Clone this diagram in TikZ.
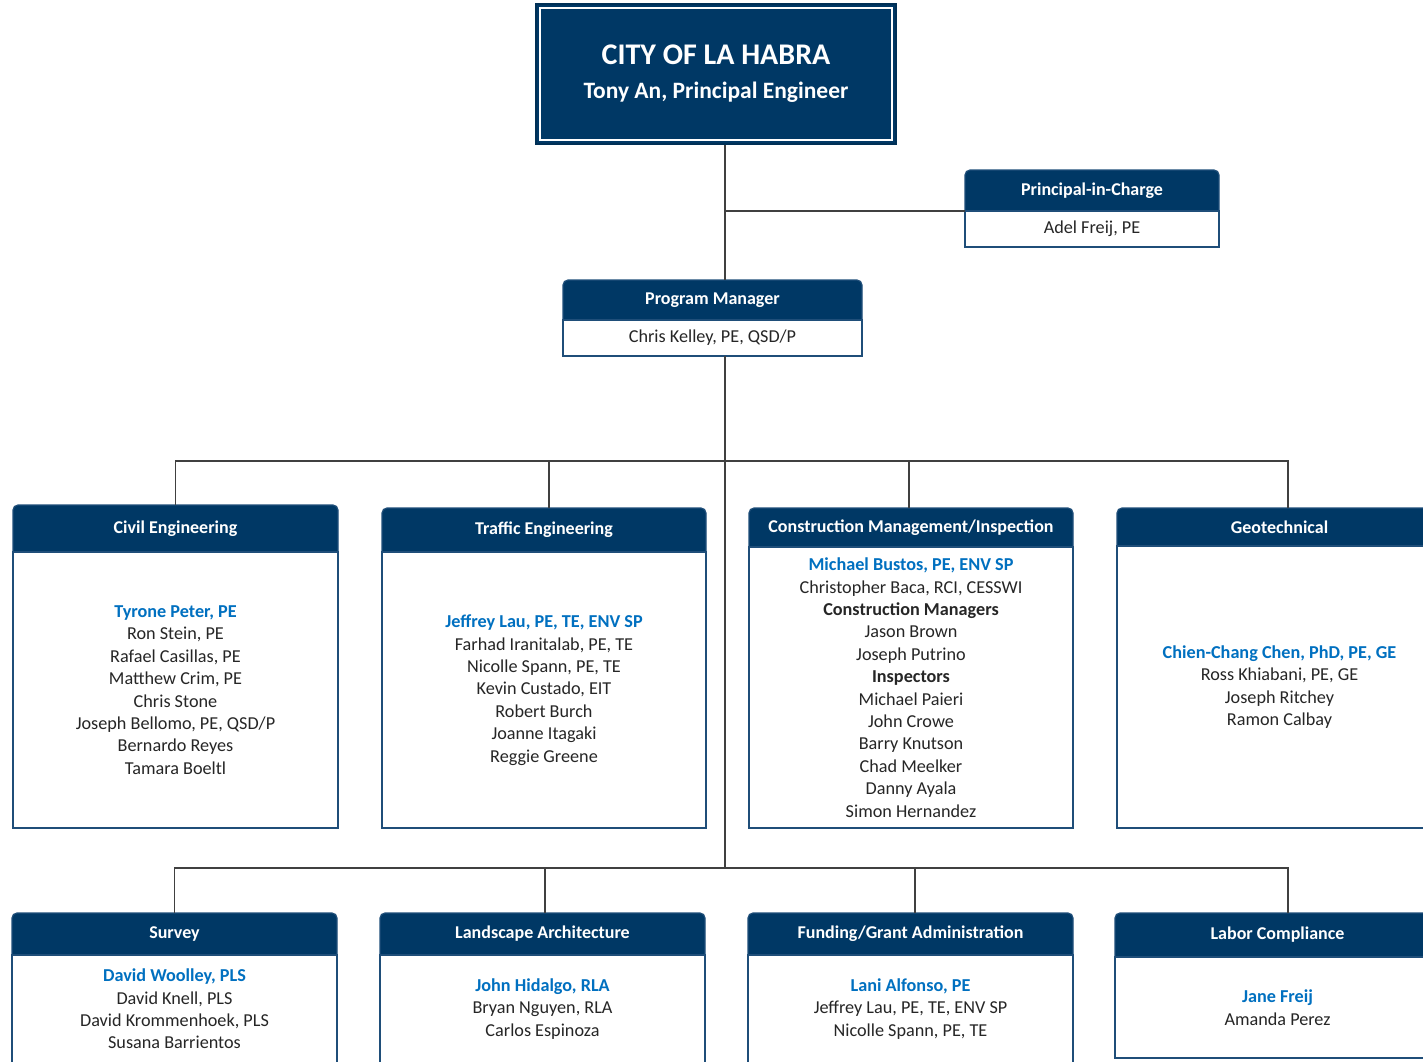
\documentclass[tikz,border=0pt]{standalone}
\usepackage{fontspec}
\setmainfont{Carlito}
\usepackage{tikz}
\usetikzlibrary{positioning}
\usetikzlibrary{calc}

\definecolor{navy}{HTML}{003865}
\definecolor{boxline}{HTML}{1F4E79}
\definecolor{leadblue}{HTML}{0070C0}
\definecolor{staffgray}{HTML}{262626}
\definecolor{linegray}{HTML}{404040}

\newcommand{\leadname}[1]{{\color{leadblue}\bfseries #1}}
\newcommand{\bodysize}{\fontsize{18.2}{22.4}\selectfont}

\tikzstyle{conn} = [draw=linegray, line width=1.5pt]
\tikzstyle{citybox} = [draw=navy!85!black, fill=navy, line width=2pt, minimum width=360pt, minimum height=140pt, text=white, font=\bfseries\fontsize{23.5}{34}\selectfont, align=center]
\tikzstyle{orgbox} = [draw=boxline, fill=navy, line width=1.2pt, rounded corners=5pt, anchor=north, inner sep=0pt, outer sep=0pt]
\tikzstyle{orghead} = [anchor=north, text=white, font=\bfseries\fontsize{18}{21}\selectfont, inner sep=0pt, outer sep=0pt]
\tikzstyle{orgbody} = [draw=boxline, fill=white, line width=1.2pt, text=staffgray, align=center, font=\bodysize, inner sep=0pt, outer sep=0pt]

\begin{document}
\begin{tikzpicture}[x=1pt, y=-1pt]
  \path[use as bounding box, clip] (0,0) rectangle (1423,1061);

  % City
  \node[citybox] (city) at (716,74) {{\fontsize{30}{34}\selectfont CITY OF LA HABRA}\\Tony An, Principal Engineer};
  \draw[white, line width=1.5pt] ([shift={(5pt,-5pt)}]city.north west) rectangle ([shift={(-5pt,5pt)}]city.south east);

  % Principal-in-Charge
  \node[orgbox, minimum width=254pt, minimum height=77pt] (pic) at (1092,170) {};
  \node[orghead, minimum width=254pt, minimum height=41pt] (picHead) at (pic.north) {Principal-in-Charge};
  \node[orgbody, minimum width=254pt, minimum height=36pt, below=0pt of picHead] (picStaff) {Adel Freij, PE};

  % Program Manager
  \node[orgbox, minimum width=299pt, minimum height=76pt] (pm) at (712.5,280) {};
  \node[orghead, minimum width=299pt, minimum height=40pt] (pmHead) at (pm.north) {Program Manager};
  \node[orgbody, minimum width=299pt, minimum height=36pt, below=0pt of pmHead] (pmStaff) {Chris Kelley, PE, QSD/P};

  % Upper row
  \node[orgbox, minimum width=325pt, minimum height=323pt] (civil) at (175.5,505) {};
  \node[orghead, minimum width=325pt, minimum height=47pt] (civilHead) at (civil.north) {Civil Engineering};
  \node[orgbody, minimum width=325pt, minimum height=276pt, below=0pt of civilHead] (civilStaff) {\leadname{Tyrone Peter, PE}\\Ron Stein, PE\\Rafael Casillas, PE\\Matthew Crim, PE\\Chris Stone\\Joseph Bellomo, PE, QSD/P\\Bernardo Reyes\\Tamara Boeltl};

  \node[orgbox, minimum width=324pt, minimum height=320pt] (traffic) at (544,508) {};
  \node[orghead, minimum width=324pt, minimum height=44pt] (trafficHead) at (traffic.north) {Traffic Engineering};
  \node[orgbody, minimum width=324pt, minimum height=276pt, below=0pt of trafficHead] (trafficStaff) {\leadname{Jeffrey Lau, PE, TE, ENV SP}\\Farhad Iranitalab, PE, TE\\Nicolle Spann, PE, TE\\Kevin Custado, EIT\\Robert Burch\\Joanne Itagaki\\Reggie Greene};

  \node[orgbox, minimum width=324pt, minimum height=320pt] (cm) at (911,508) {};
  \node[orghead, minimum width=324pt, minimum height=39pt] (cmHead) at (cm.north) {Construction Management/Inspection};
  \node[orgbody, minimum width=324pt, minimum height=281pt, below=0pt of cmHead] (cmStaff) {\leadname{Michael Bustos, PE, ENV SP}\\Christopher Baca, RCI, CESSWI\\\textbf{Construction Managers}\\Jason Brown\\Joseph Putrino\\\textbf{Inspectors}\\Michael Paieri\\John Crowe\\Barry Knutson\\Chad Meelker\\Danny Ayala\\Simon Hernandez};

  \node[orgbox, minimum width=325pt, minimum height=320pt] (geo) at (1279.5,508) {};
  \node[orghead, minimum width=325pt, minimum height=38pt] (geoHead) at (geo.north) {Geotechnical};
  \node[orgbody, minimum width=325pt, minimum height=282pt, below=0pt of geoHead] (geoStaff) {\leadname{Chien-Chang Chen, PhD, PE, GE}\\Ross Khiabani, PE, GE\\Joseph Ritchey\\Ramon Calbay};

  % Lower row
  \node[orgbox, minimum width=325pt, minimum height=150pt] (survey) at (174.5,913) {};
  \node[orghead, minimum width=325pt, minimum height=42pt] (surveyHead) at (survey.north) {Survey};
  \node[orgbody, minimum width=325pt, minimum height=108pt, below=0pt of surveyHead] (surveyStaff) {\leadname{David Woolley, PLS}\\David Knell, PLS\\David Krommenhoek, PLS\\Susana Barrientos};

  \node[orgbox, minimum width=325pt, minimum height=150pt] (land) at (542.5,913) {};
  \node[orghead, minimum width=325pt, minimum height=42pt] (landHead) at (land.north) {Landscape Architecture};
  \node[orgbody, minimum width=325pt, minimum height=108pt, below=0pt of landHead] (landStaff) {\leadname{John Hidalgo, RLA}\\Bryan Nguyen, RLA\\Carlos Espinoza};

  \node[orgbox, minimum width=325pt, minimum height=150pt] (fund) at (910.5,913) {};
  \node[orghead, minimum width=325pt, minimum height=42pt] (fundHead) at (fund.north) {Funding/Grant Administration};
  \node[orgbody, minimum width=325pt, minimum height=108pt, below=0pt of fundHead] (fundStaff) {\leadname{Lani Alfonso, PE}\\Jeffrey Lau, PE, TE, ENV SP\\Nicolle Spann, PE, TE};

  \node[orgbox, minimum width=325pt, minimum height=145pt] (labor) at (1277.5,913) {};
  \node[orghead, minimum width=325pt, minimum height=44pt] (laborHead) at (labor.north) {Labor Compliance};
  \node[orgbody, minimum width=325pt, minimum height=101pt, below=0pt of laborHead] (laborStaff) {\leadname{Jane Freij}\\Amanda Perez};

  % Connectors
  \coordinate (trunk) at (725,461);
  \coordinate (lowbus) at (725,868);
  \draw[conn] (city.south -| trunk) -- (pm.north -| trunk);
  \draw[conn] (picHead.south west -| trunk) -- (picHead.south west);
  \draw[conn] (pmStaff.south -| trunk) -- (lowbus);
  \draw[conn] (civil.north) |- (trunk) -| ([xshift=8.5pt]geo.north);
  \draw[conn] ([xshift=5pt]traffic.north) -- ([xshift=5pt]traffic.north |- trunk);
  \draw[conn] ([xshift=-2pt]cm.north) -- ([xshift=-2pt]cm.north |- trunk);
  \draw[conn] (survey.north) |- (lowbus) -| ([xshift=10.5pt]labor.north);
  \draw[conn] ([xshift=2.5pt]land.north) -- ([xshift=2.5pt]land.north |- lowbus);
  \draw[conn] ([xshift=4.5pt]fund.north) -- ([xshift=4.5pt]fund.north |- lowbus);
\end{tikzpicture}
\end{document}
